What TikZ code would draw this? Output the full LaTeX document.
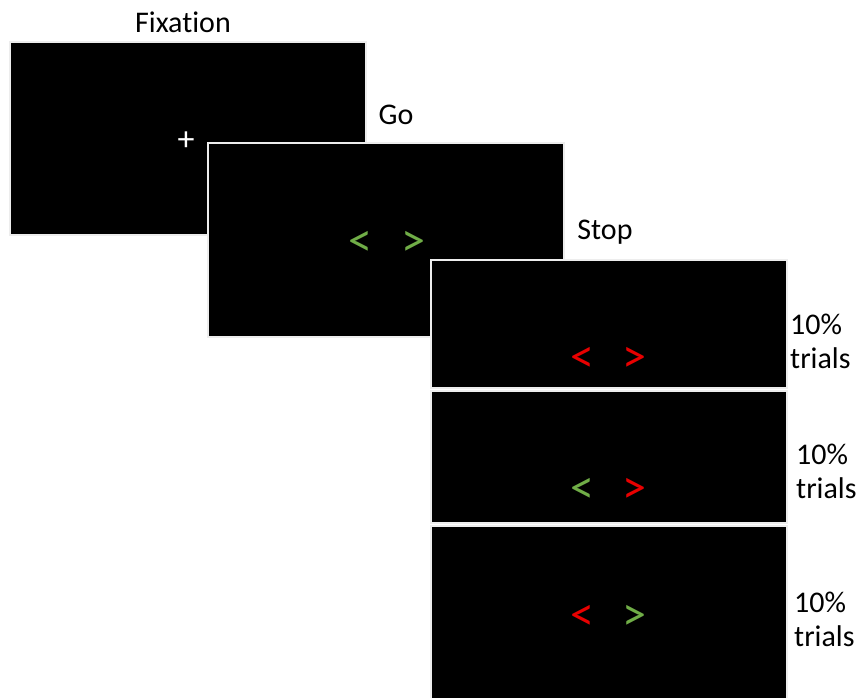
\documentclass[tikz,border=0pt]{standalone}
\usepackage{fontspec}
\setmainfont{Carlito}[Ligatures=NoCommon]

\begin{document}
\begin{tikzpicture}[x=1pt,y=-1pt]
  \tikzstyle{screen}=[draw=black!7,line width=2pt,fill=black,inner sep=0pt,minimum width=356pt]
  \tikzstyle{caption}=[inner sep=0pt,font=\fontsize{30}{34}\selectfont]
  \tikzstyle{sign}=[inner sep=0pt,font=\fontsize{48}{48}\selectfont]
  \definecolor{gogreen}{RGB}{112,173,71}
  \definecolor{stopred}{RGB}{232,0,0}

  \useasboundingbox (0,0) rectangle (860,697);

  % Define the screens
  \node[screen,minimum height=193pt] (fix) at (188,138.5) {};
  \node[screen,minimum height=194pt] (go) at (385.5,240) {};
  \node[screen,minimum height=128pt] (stopA) at (608.5,324) {};
  \node[screen,minimum height=132pt] (stopB) at (608.5,457) {};
  \node[screen,minimum height=176pt] (stopC) at (608.5,614) {};

  % Define the captions
  \node[caption] (fixlabel) at (183,22) {Fixation};
  \node[caption] (golabel) at (396,115) {Go};
  \node[caption] (stoplabel) at (605,232) {Stop};
  \foreach \name/\x/\y in {pctA/790/341, pctB/796/471, pctC/794/619} {
    \node[caption,align=left,anchor=west] (\name) at (\x,\y) {10\%\\trials};
  }

  % Fixation cross
  \node[caption,text=white,font=\fontsize{34}{34}\selectfont] (cross) at (186,141) {+};

  % Define the arrow signs
  \foreach \name/\x/\y/\c/\s in {goL/360/244/gogreen/<, goR/413/244/gogreen/>,
      aL/582/360/stopred/<, aR/634/360/stopred/>,
      bL/582/491/gogreen/<, bR/634/491/stopred/>,
      cL/582/618/stopred/<, cR/634/618/gogreen/>} {
    \node[sign,text=\c] (\name) at (\x,\y) {\s};
  }
\end{tikzpicture}
\end{document}
